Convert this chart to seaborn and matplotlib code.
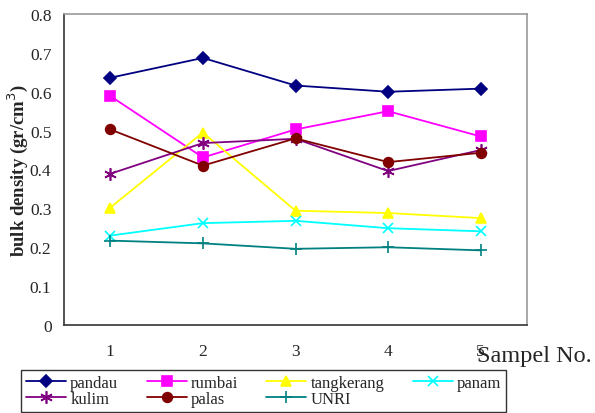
import matplotlib

matplotlib.use("Agg")
import matplotlib.pyplot as plt  # noqa: E402
import pandas as pd  # noqa: E402
import seaborn as sns  # noqa: E402

sns.set_style("white")
plt.rcParams["font.family"] = ["Liberation Serif", "DejaVu Serif"]

samples = [1, 2, 3, 4, 5]
pandau = [0.636, 0.687, 0.616, 0.600, 0.608]
rumbai = [0.589, 0.431, 0.503, 0.550, 0.485]
tangkerang = [0.302, 0.495, 0.294, 0.288, 0.275]
panam = [0.230, 0.262, 0.268, 0.249, 0.241]
kulim = [0.389, 0.468, 0.479, 0.396, 0.450]
palas = [0.503, 0.410, 0.480, 0.419, 0.443]
unri = [0.217, 0.210, 0.196, 0.200, 0.192]

# name -> (values, colour, marker, marker size)
series = {
    "pandau": (pandau, "#000080", "D", 6),
    "rumbai": (rumbai, "#FF00FF", "s", 6.5),
    "tangkerang": (tangkerang, "#FFFF00", "^", 7.5),
    "panam": (panam, "#00FFFF", "x", 7),
    "kulim": (kulim, "#800080", (6, 2, 0), 9),
    "palas": (palas, "#800000", "o", 7),
    "UNRI": (unri, "#008080", "+", 8.5),
}

fig = plt.figure(figsize=(5.95, 4.14), dpi=100)
ax = fig.add_axes([64 / 595, 1 - 326 / 414, 463 / 595, 311 / 414])

for name, (vals, color, marker, ms) in series.items():
    df = pd.DataFrame({"sample": samples, "value": vals})
    sns.lineplot(data=df, x="sample", y="value", ax=ax, color=color,
                 marker=marker, markersize=ms, markeredgecolor=color,
                 markeredgewidth=1.2, linewidth=1.3, label=name)

ax.set_xlim(0.5, 5.5)
ax.set_ylim(0, 0.8)
ax.set_yticks([i / 10 for i in range(9)])
ax.set_yticklabels(["0"] + [f"{i / 10:.1f}" for i in range(1, 9)])
# category boundaries as tick marks, labels at the centres
ax.set_xticks([0.5, 1.5, 2.5, 3.5, 4.5, 5.5])
ax.set_xticklabels([])
ax.set_xticks(samples, minor=True)
ax.set_xticklabels([str(s) for s in samples], minor=True)
ax.tick_params(axis="x", which="major", length=5, width=1, color="#333333", direction="out")
ax.tick_params(axis="x", which="minor", length=0, pad=13, labelsize=12.5)
ax.tick_params(axis="y", length=5, width=1, color="#333333", direction="out",
               labelsize=12.5, pad=4)

for side in ["left", "bottom"]:
    ax.spines[side].set_color("#333333")
    ax.spines[side].set_linewidth(1.2)
for side in ["top", "right"]:
    ax.spines[side].set_color("#999999")
    ax.spines[side].set_linewidth(1.2)

ax.set_xlabel("")
ax.set_ylabel("bulk density (gr/cm$^3$)", fontsize=13.5, fontweight="bold")
ax.yaxis.set_label_coords(-0.074, 0.5)

fig.text(477 / 595, 1 - 362 / 414, "Sampel No.", fontsize=17.5, ha="left", va="baseline")

handles, labels = ax.get_legend_handles_labels()
ax.get_legend().remove()
order = ["pandau", "kulim", "rumbai", "palas", "tangkerang", "UNRI", "panam"]
idx = [labels.index(n) for n in order]
leg = fig.legend([handles[i] for i in idx], order, ncol=4,
                 loc="upper left", bbox_to_anchor=(21 / 595, 1 - 371 / 414),
                 fontsize=12, frameon=True, fancybox=False, edgecolor="black",
                 handlelength=2.4, columnspacing=1.7, handletextpad=0.25,
                 labelspacing=0.0, borderpad=0.3, borderaxespad=0)
leg.get_frame().set_linewidth(1.0)

fig.savefig("out.png", dpi=100)
